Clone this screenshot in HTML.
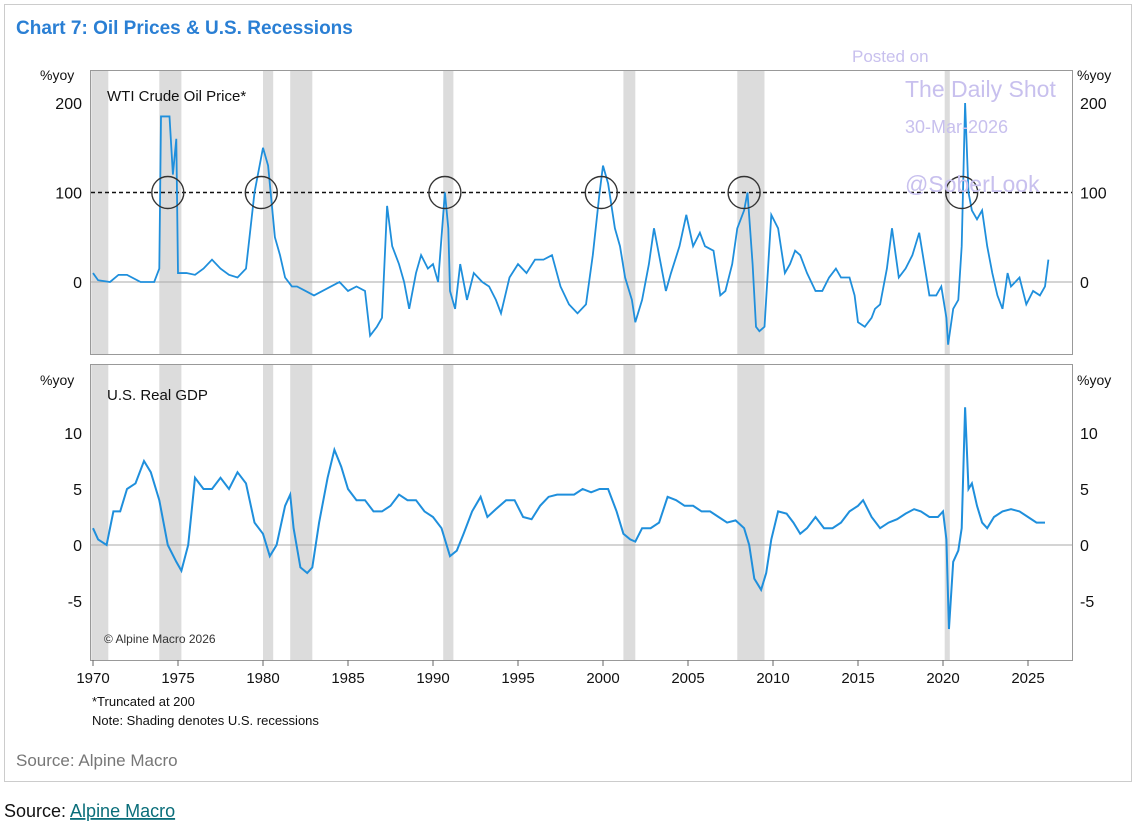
<!DOCTYPE html>
<html><head><meta charset="utf-8"><style>
body{margin:0;background:#fff;font-family:"Liberation Sans",sans-serif;}
svg text{font-family:"Liberation Sans",sans-serif;}
</style></head><body>
<svg width="1142" height="830" xmlns="http://www.w3.org/2000/svg" id="chart">
<rect x="4.5" y="4.5" width="1127" height="777" fill="#fff" stroke="#ccc"/>
<text x="16" y="34" font-size="19" font-weight="bold" fill="#2a7fd4">Chart 7: Oil Prices &amp; U.S. Recessions</text>
<g id="rec"></g>
<rect x="90.5" y="70.5" width="982" height="284" fill="none" stroke="#999"/>
<rect x="90.5" y="364.5" width="982" height="296" fill="none" stroke="#999"/>
<g id="axes"></g>
<g id="marks"></g>
<text x="107" y="101" font-size="15" fill="#111">WTI Crude Oil Price*</text>
<text x="107" y="400" font-size="15" fill="#111">U.S. Real GDP</text>
<text x="40" y="80" font-size="14" fill="#111">%yoy</text>
<text x="1077" y="80" font-size="14" fill="#111">%yoy</text>
<text x="40" y="385" font-size="14" fill="#111">%yoy</text>
<text x="1077" y="385" font-size="14" fill="#111">%yoy</text>
<text x="104" y="643" font-size="12" fill="#333">© Alpine Macro 2026</text>
<text x="92" y="706" font-size="13" fill="#111">*Truncated at 200</text>
<text x="92" y="725" font-size="13" fill="#111">Note: Shading denotes U.S. recessions</text>
<text x="16" y="766" font-size="17" fill="#777">Source: Alpine Macro</text>
<g fill="#c8c0ee">
<text x="852" y="62" font-size="17" font-family="Liberation Mono">Posted on</text>
<text x="905" y="97" font-size="23">The Daily Shot</text>
<text x="905" y="133" font-size="18">30-Mar-2026</text>
<text x="905" y="192" font-size="23">@SoberLook</text>
</g>
<text x="4" y="817" font-size="18" fill="#111">Source: <tspan fill="#0a6e7a" text-decoration="underline">Alpine Macro</tspan></text>
</svg>
<script>
const recStart=[1969.9,1973.9,1980.0,1981.6,1990.6,2001.2,2007.9,2020.1];
const recEnd=[1970.9,1975.2,1980.6,1982.9,1991.2,2001.9,2009.5,2020.4];
const oilYears=[1970,1970.3,1971,1971.5,1972,1972.8,1973.6,1973.9,1974.0,1974.5,1974.7,1974.9,1975.0,1975.5,1976,1976.5,1977,1977.5,1978,1978.5,1979,1979.5,1980,1980.3,1980.7,1981,1981.3,1981.7,1982,1982.5,1983,1983.5,1984,1984.5,1985,1985.5,1986,1986.3,1986.7,1987,1987.3,1987.6,1988,1988.3,1988.6,1989,1989.3,1989.7,1990,1990.3,1990.7,1990.9,1991,1991.3,1991.6,1992,1992.4,1992.9,1993.3,1993.7,1994,1994.5,1995,1995.5,1996,1996.5,1997,1997.5,1998,1998.5,1999,1999.4,1999.8,2000,2000.3,2000.7,2001,2001.3,2001.7,2001.9,2002.3,2002.7,2003,2003.3,2003.7,2004,2004.5,2004.9,2005.3,2005.7,2006,2006.5,2006.9,2007.2,2007.6,2007.9,2008.3,2008.5,2008.8,2009,2009.2,2009.5,2009.9,2010.3,2010.7,2011,2011.3,2011.6,2012,2012.5,2012.9,2013.3,2013.7,2014,2014.5,2014.8,2015,2015.4,2015.8,2016,2016.3,2016.7,2017,2017.4,2017.8,2018.2,2018.6,2018.9,2019.2,2019.6,2019.9,2020.2,2020.3,2020.6,2020.9,2021.1,2021.3,2021.5,2021.7,2022,2022.3,2022.6,2022.9,2023.2,2023.5,2023.8,2024,2024.5,2024.9,2025.3,2025.7,2026.0,2026.2];
const oilValues=[10,2,0,8,8,0,0,15,185,185,120,160,10,10,8,15,25,15,8,5,15,100,150,130,50,30,5,-5,-5,-10,-15,-10,-5,0,-10,-5,-10,-60,-50,-40,85,40,20,0,-30,10,30,15,20,0,100,60,-10,-30,20,-20,10,0,-5,-20,-35,5,20,10,25,25,30,-5,-25,-35,-25,30,100,130,110,60,40,5,-20,-45,-20,20,60,30,-10,10,40,75,40,55,40,35,-15,-10,20,60,80,100,20,-50,-55,-50,75,60,10,20,35,30,10,-10,-10,5,15,5,5,-15,-45,-50,-40,-30,-25,15,60,5,15,30,55,20,-15,-15,-5,-40,-70,-30,-20,40,200,100,80,70,80,40,10,-15,-30,10,-5,5,-25,-10,-15,-5,25];
const gdpYears=[1970,1970.3,1970.8,1971.2,1971.6,1972,1972.5,1973,1973.4,1973.9,1974.4,1974.9,1975.2,1975.6,1976,1976.5,1977,1977.5,1978,1978.5,1979,1979.5,1980,1980.4,1980.8,1981.3,1981.6,1981.8,1982.2,1982.6,1982.9,1983.3,1983.8,1984.2,1984.6,1985,1985.5,1986,1986.5,1987,1987.5,1988,1988.5,1989,1989.5,1990,1990.5,1991,1991.4,1991.8,1992.3,1992.8,1993.2,1993.7,1994.3,1994.8,1995.3,1995.8,1996.3,1996.8,1997.3,1997.8,1998.3,1998.8,1999.3,1999.8,2000.3,2000.8,2001.2,2001.6,2001.9,2002.3,2002.8,2003.3,2003.8,2004.3,2004.8,2005.3,2005.8,2006.3,2006.8,2007.3,2007.8,2008.3,2008.6,2008.9,2009.3,2009.6,2009.9,2010.3,2010.8,2011.2,2011.6,2012,2012.5,2013,2013.5,2014,2014.5,2015,2015.3,2015.8,2016.3,2016.8,2017.3,2017.8,2018.3,2018.7,2019.2,2019.7,2020,2020.2,2020.35,2020.6,2020.9,2021.1,2021.3,2021.5,2021.7,2022,2022.3,2022.6,2023,2023.5,2024,2024.5,2025,2025.5,2026];
const gdpValues=[1.5,0.5,0,3,3,5,5.5,7.5,6.5,4,0,-1.5,-2.3,0,6,5,5,6,5,6.5,5.5,2,1,-1,0,3.5,4.5,1.5,-2,-2.5,-2,2,6,8.5,7,5,4,4,3,3,3.5,4.5,4,4,3,2.5,1.5,-1,-0.5,1,3,4.3,2.5,3.2,4,4,2.5,2.3,3.5,4.3,4.5,4.5,4.5,5,4.7,5,5,3,1,0.5,0.3,1.5,1.5,2,4.3,4,3.5,3.5,3,3,2.5,2,2.2,1.5,0,-3,-4,-2.5,0.5,3,2.8,2,1,1.5,2.5,1.5,1.5,2,3,3.5,4,2.5,1.5,2,2.3,2.8,3.2,3,2.5,2.5,3,0.5,-7.5,-1.5,-0.5,1.5,12.3,5,5.5,3.5,2,1.5,2.5,3,3.2,3,2.5,2,2];
const xTicks=[1970,1975,1980,1985,1990,1995,2000,2005,2010,2015,2020,2025];
const oilTicks=[0,100,200];
const gdpTicks=[-5,0,5,10];
const circleYears=[1974.4,1979.9,1990.7,1999.9,2008.3,2021.1];

const NS='http://www.w3.org/2000/svg';
const X=y=>93+(y-1970)*17;
const YO=v=>282-v*0.895;
const YG=v=>545-v*11.2;
function mk(tag,attrs,parent){const e=document.createElementNS(NS,tag);for(const k in attrs)e.setAttribute(k,attrs[k]);document.getElementById(parent).appendChild(e);return e;}
recStart.forEach((s,i)=>{
  const r=mk('rect',{x:X(s),y:71,width:X(recEnd[i])-X(s),height:589,fill:'#dcdcdc'},'rec');
  
  
});
// white gap between panels
const gap=mk('rect',{x:90,y:355,width:983,height:9,fill:'#fff'},'rec');


xTicks.forEach(t=>{
  const l=mk('line',{x1:X(t),x2:X(t),y1:660,y2:666,stroke:'#666'},'axes');
  
  
  const tx=mk('text',{x:X(t),y:683,'font-size':15,'text-anchor':'middle',fill:'#111'},'axes');
  tx.textContent=t;
  
  
});
oilTicks.forEach(t=>{
  if(t===0){const z=mk('line',{x1:91,x2:1072,y1:YO(0),y2:YO(0),stroke:'#aaa'},'axes');
    
    }
  [[82,'end'],[1080,'start']].forEach(([x,a])=>{
    const tx=mk('text',{x:x,y:YO(t)+6,'font-size':16,'text-anchor':a,fill:'#111'},'axes');
    tx.textContent=t;
    
    
  });
});
gdpTicks.forEach(t=>{
  if(t===0){const z=mk('line',{x1:91,x2:1072,y1:YG(0),y2:YG(0),stroke:'#aaa'},'axes');
    
    }
  [[82,'end'],[1080,'start']].forEach(([x,a])=>{
    const tx=mk('text',{x:x,y:YG(t)+6,'font-size':16,'text-anchor':a,fill:'#111'},'axes');
    tx.textContent=t;
    
    
  });
});
const ref=mk('line',{x1:91,x2:1072,y1:YO(100),y2:YO(100),stroke:'#111','stroke-width':1.6,'stroke-dasharray':'4,3'},'marks');


const po=mk('polyline',{points:oilYears.map((y,i)=>X(y)+','+YO(oilValues[i])).join(' '),fill:'none',stroke:'#1f8fdc','stroke-width':1.8},'marks');


const pg=mk('polyline',{points:gdpYears.map((y,i)=>X(y)+','+YG(gdpValues[i])).join(' '),fill:'none',stroke:'#1f8fdc','stroke-width':2},'marks');


circleYears.forEach(y=>{
  const c=mk('circle',{cx:X(y),cy:YO(100),r:16,fill:'none',stroke:'#333','stroke-width':1.4},'marks');
  
  
});
</script>
</body></html>
